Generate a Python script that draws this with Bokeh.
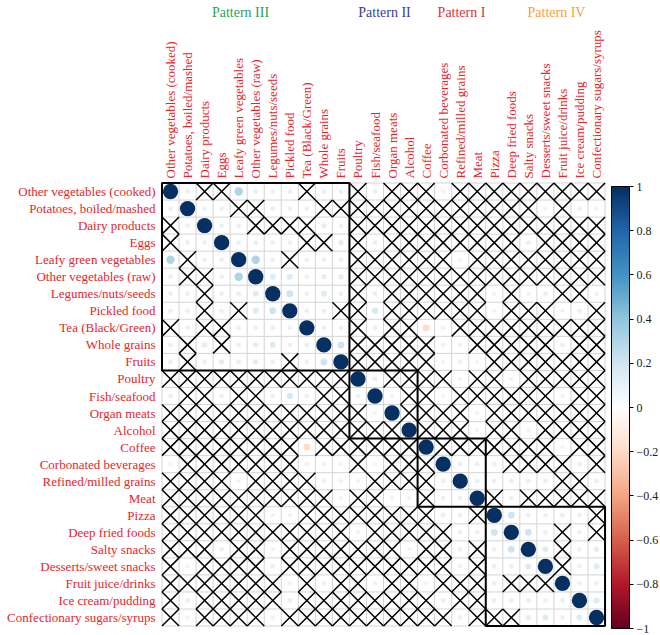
import numpy as np
from bokeh.plotting import figure
from bokeh.models import Range1d, ColumnDataSource, LinearColorMapper, ColorBar, FixedTicker, CustomJSTickFormatter
from bokeh.core.properties import value
from bokeh.embed import file_html
from bokeh.resources import INLINE

foods = ["Other vegetables (cooked)", "Potatoes, boiled/mashed", "Dairy products", "Eggs",
         "Leafy green vegetables", "Other vegetables (raw)", "Legumes/nuts/seeds", "Pickled food",
         "Tea (Black/Green)", "Whole grains", "Fruits", "Poultry", "Fish/seafood", "Organ meats",
         "Alcohol", "Coffee", "Corbonated beverages", "Refined/milled grains", "Meat", "Pizza",
         "Deep fried foods", "Salty snacks", "Desserts/sweet snacks", "Fruit juice/drinks",
         "Ice cream/pudding", "Confectionary sugars/syrups"]
group_names = ["Pattern III", "Pattern II", "Pattern I", "Pattern IV"]
group_sizes = [11, 4, 4, 7]
group_colors = ["#2aa05a", "#3c3c96", "#e0323c", "#f5a23a"]
colorbar_ticks = [-1, -0.8, -0.6, -0.4, -0.2, 0, 0.2, 0.4, 0.6, 0.8, 1]

X = None  # not significant (crossed)
# upper triangle, row i holds correlations with columns i+1 .. 25
u00 = [.1, X, X, .3, .1, .1, .1, X, .1, .1, X, .1, X, X, X, -.08, X, X, X, X, X, X, X, X, X]
u01 = [.1, .1, X, X, .1, .1, .1, X, X, X, X, X, X, X, X, X, X, X, X, X, .08, X, .1, .08]
u02 = [.1, .1, X, X, X, X, .12, .1, X, X, X, X, X, X, X, X, X, X, X, X, X, X, X]
u03 = [.1, .1, .1, .1, X, X, .12, X, .1, X, X, X, X, X, X, X, X, .1, X, X, X, X]
u04 = [.3, .1, X, .1, .1, .1, X, X, X, X, X, X, -.08, X, X, X, X, X, X, X, X]
u05 = [.15, .15, .1, .12, .12, X, X, X, X, X, X, X, X, X, X, X, X, X, X, X]
u06 = [.2, .1, .15, .1, X, .1, X, X, X, X, X, X, .08, X, .08, .1, X, X, .08]
u07 = [.1, .1, X, X, .17, X, X, X, X, X, X, .08, X, X, X, .08, .1, X]
u08 = [.1, .1, X, .1, X, X, -.2, -.1, X, X, X, X, X, X, X, X, X]
u09 = [.2, X, X, X, X, X, -.1, -.1, X, X, X, X, X, .1, X, X]
u10 = [X, X, X, X, X, -.08, -.1, -.08, X, X, X, X, X, X, X]
u11 = [.1, X, X, X, X, .08, X, X, .08, X, X, X, X, X]
u12 = [.08, X, X, -.08, X, X, X, X, X, X, .08, X, X]
u13 = [X, X, X, X, .08, X, X, X, X, X, X, X]
u14 = [X, X, X, .08, X, X, .08, X, X, X, X]
u15 = [X, X, X, X, X, X, X, -.08, X, X]
u16 = [.1, .1, .1, X, X, X, X, .1, X]
u17 = [.1, .1, .1, .1, .1, X, X, .1]
u18 = [X, .1, X, X, X, X, X]
u19 = [.2, .1, .1, .1, .1, X]
u20 = [.2, .1, X, .1, X]
u21 = [.15, X, .1, .12]
u22 = [X, .1, .15]
u23 = [.1, .1]
u24 = [.15]
upper = [u00, u01, u02, u03, u04, u05, u06, u07, u08, u09, u10, u11, u12, u13, u14, u15,
         u16, u17, u18, u19, u20, u21, u22, u23, u24]

n = len(foods)
M = np.full((n, n), np.nan)
sig = np.zeros((n, n), dtype=bool)
for i in range(n):
    M[i, i] = 1.0
    sig[i, i] = True
for i, row in enumerate(upper):
    for k, v in enumerate(row):
        j = i + 1 + k
        if v is not None:
            M[i, j] = M[j, i] = v
            sig[i, j] = sig[j, i] = True

# ---------- geometry (pixels) ----------
C = 17.04            # cell size in px
W, H = 660, 635
grid_left_px = 161.5
grid_top_px = 182.5
grid_bottom_px = H - (grid_top_px + n * C)
x0 = -grid_left_px / C
y0 = -grid_bottom_px / C

p = figure(width=W, height=H, output_backend="svg", toolbar_location=None,
           x_range=Range1d(x0, x0 + W / C), y_range=Range1d(y0, y0 + H / C),
           x_axis_type=None, y_axis_type=None, min_border=0)
p.grid.visible = False
p.outline_line_color = None
p.background_fill_color = "white"

# grid lines
lines = np.arange(n + 1)
p.segment(x0=lines, y0=0, x1=lines, y1=n, line_color="#d4d4d4", line_width=1)
p.segment(x0=0, y0=lines, x1=n, y1=lines, line_color="#d4d4d4", line_width=1)

# colormap
rdbu = ["#67001F", "#B2182B", "#D6604D", "#F4A582", "#FDDBC7", "#FFFFFF",
        "#D1E5F0", "#92C5DE", "#4393C3", "#2166AC", "#053061"]
def hex2rgb(h):
    return np.array([int(h[1:3], 16), int(h[3:5], 16), int(h[5:7], 16)], float)
anchors = np.array([hex2rgb(h) for h in rdbu])
t = np.linspace(0, 1, 200)
pos = np.linspace(0, 1, len(rdbu))
palette = []
for tt in t:
    rgb = [np.interp(tt, pos, anchors[:, c]) for c in range(3)]
    palette.append("#%02x%02x%02x" % tuple(int(round(v)) for v in rgb))
mapper = LinearColorMapper(palette=palette, low=-1, high=1)

# circles
cx, cy, cr, rad = [], [], [], []
for i in range(n):
    for j in range(n):
        if sig[i, j]:
            cx.append(j + 0.5)
            cy.append(n - i - 0.5)
            cr.append(M[i, j])
            rad.append(0.45 * np.sqrt(abs(M[i, j])))
src = ColumnDataSource(dict(x=cx, y=cy, r=cr, rad=rad))
p.circle(x="x", y="y", radius="rad", source=src,
         fill_color={"field": "r", "transform": mapper}, line_color=None)

# crosses for non-significant
ax0, ay0, ax1, ay1 = [], [], [], []
for i in range(n):
    for j in range(n):
        if not sig[i, j]:
            ax0 += [j, j]
            ay0 += [n - i - 1, n - i]
            ax1 += [j + 1, j + 1]
            ay1 += [n - i, n - i - 1]
p.segment(x0=ax0, y0=ay0, x1=ax1, y1=ay1, line_color="black", line_width=1.5)

# pattern boxes
starts = np.cumsum([0] + group_sizes[:-1])
sizes = np.array(group_sizes)
p.quad(left=starts, right=starts + sizes, top=n - starts, bottom=n - starts - sizes,
       fill_color=None, line_color="black", line_width=2)

label_red = "#e5262b"
font = value("Liberation Serif")
# row labels
p.text(x=[-6.5 / C] * n, y=[n - i - 0.5 for i in range(n)], text=foods,
       text_align="right", text_baseline="middle", text_font=font,
       text_font_size="13px", text_color=label_red)
# column labels
p.text(x=[j + 0.5 for j in range(n)], y=[n + 4.5 / C] * n, text=foods, angle=np.pi / 2,
       text_align="left", text_baseline="middle", text_font=font,
       text_font_size="13px", text_color=label_red)
# pattern titles
title_px = [240, 384, 461, 556]   # centre x in page px
p.text(x=[(tx - grid_left_px) / C for tx in title_px], y=[n + (grid_top_px - 11.5) / C] * 4,
       text=group_names, text_align="center", text_baseline="middle", text_font=font,
       text_font_size="14px", text_color=group_colors)

# colour bar
fmt = CustomJSTickFormatter(code="""
var a = Math.abs(tick);
var s;
if (a < 1e-9) { s = '0'; }
else if (Math.abs(a - 1) < 1e-9) { s = '1'; }
else { s = a.toFixed(1); }
return (tick < -1e-9 ? '\u2212' : '') + s;
""")
cb = ColorBar(color_mapper=mapper, ticker=FixedTicker(ticks=colorbar_ticks), formatter=fmt,
              location=(611, 7), width=18, height=442, padding=0, margin=0,
              bar_line_color="black", bar_line_width=1,
              major_tick_in=0, major_tick_out=4, major_tick_line_color="black",
              minor_tick_line_color=None, label_standoff=3,
              major_label_text_font="Liberation Serif", major_label_text_font_size="12px",
              major_label_text_color="#222222", background_fill_color=None)
p.add_layout(cb)

open("out.html", "w").write(file_html(p, INLINE))
